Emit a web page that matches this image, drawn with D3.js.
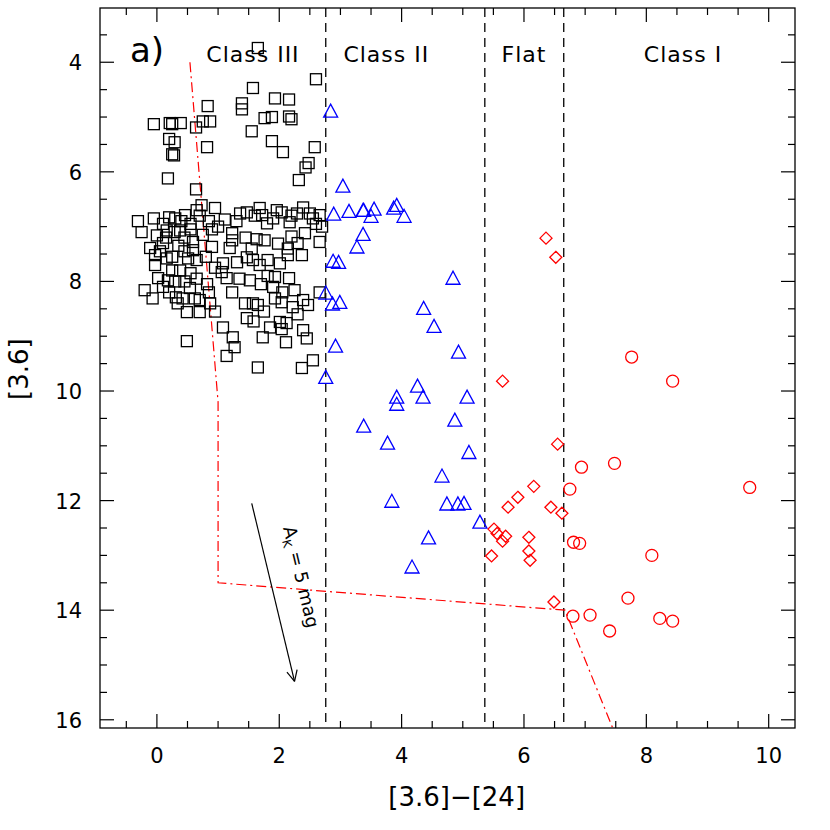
<!DOCTYPE html>
<html><head><meta charset="utf-8">
<script src="https://cdn.jsdelivr.net/npm/d3@7"></script>
<style>body{margin:0;background:#fff}</style></head>
<body><svg id="c" width="830" height="830"></svg>
<script>
const xTicks=[0,2,4,6,8,10];
const yTicks=[4,6,8,10,12,14,16];
const classBounds=[2.76,5.36,6.65];
const classLabels=[["Class III",1.57],["Class II",3.75],["Flat",6.0],["Class I",8.6]];
const reddeningLine=[[0.54,4.0],[1.0,10.2],[1.0,13.5],[6.67,14.0],[7.45,16.15]];
const arrow=[[1.55,12.05],[2.25,15.3]];
const classIII=[[1.65,3.74],[2.6,4.31],[1.57,4.47],[1.93,4.66],[2.16,4.68],[1.39,4.75],[1.39,4.86],[0.83,4.8],[-0.05,5.13],[0.21,5.11],[0.25,5.13],[0.39,5.11],[0.75,5.08],[0.87,5.08],[0.64,5.19],[1.76,5.02],[1.88,5.0],[2.16,4.99],[2.2,5.04],[1.55,5.26],[0.2,5.4],[0.29,5.46],[1.88,5.44],[0.82,5.55],[2.06,5.64],[2.58,5.55],[0.25,5.68],[0.28,5.7],[2.48,5.84],[2.43,5.92],[0.18,6.12],[2.32,6.15],[0.64,6.32],
[-0.31,6.9],[-0.25,7.1],[0.2,6.83],[0.46,6.79],[0.73,6.61],[0.95,6.66],[1.11,6.87],[1.36,6.76],[1.47,6.74],[1.68,6.66],[1.72,6.79],[1.96,6.7],[2.04,6.74],[2.29,6.76],[2.39,6.65],[2.5,6.76],[2.66,6.79],[1.8,6.94],[2.17,6.92],[2.42,7.12],[2.2,7.18],[1.63,7.23],[1.76,7.25],[1.98,7.31],[2.14,7.4],[2.14,7.52],[2.37,7.52],[2.66,7.28],[1.23,7.12],[1.23,7.25],[1.19,7.39],[0.9,7.37],[0.59,7.28],[0.59,7.43],[0.16,7.07],[0.29,7.1],[0.38,7.07],[0.0,7.16],[-0.11,7.39],[-0.03,7.52],[-0.03,7.7],[0.16,7.58],[0.25,7.8],[0.38,7.8],[0.51,7.58],[0.65,7.61],[0.02,7.94],[0.18,7.98],[-0.2,8.16],[-0.07,8.31],[0.31,8.29],[0.42,8.31],[0.54,8.12],[0.62,8.31],[0.7,8.34],[0.34,8.4],[0.49,8.56],[0.7,8.56],[0.87,8.4],[0.82,8.05],[1.08,7.67],[1.06,7.83],[1.14,7.94],[1.23,8.2],[1.31,7.65],[1.47,7.56],[1.57,7.61],[1.68,7.7],[1.81,7.61],[2.01,7.67],[1.81,7.9],[1.93,7.92],[2.16,7.94],[1.52,7.98],[2.25,8.16],[1.44,8.4],[1.57,8.4],[1.65,8.43],[1.93,8.31],[2.04,8.38],[2.22,8.47],[2.39,8.34],[2.47,8.43],[1.47,8.67],[1.58,8.73],[1.85,8.84],[2.01,8.74],[2.12,8.76],[2.04,8.87],[2.39,8.89],[2.45,9.04],[2.11,9.11],[1.73,9.02],[1.08,8.84],[1.24,9.02],[1.27,9.2],[1.14,9.36],[0.49,9.09],[1.65,9.57],[2.55,9.44],[2.37,9.58],[2.66,8.2],
[0.1,6.95],[0.3,6.85],[0.55,6.95],[0.7,6.8],[0.85,6.9],[1.0,7.0],[0.45,7.2],[0.75,7.15],[0.9,7.05],[0.35,7.35],[0.1,7.3],[0.05,7.45],[0.25,7.55],[0.45,7.45],[0.8,7.55],[0.95,7.75],[0.55,7.85],[0.3,8.0],[0.45,8.0],[0.65,7.95],[0.1,8.1],[0.2,8.2],[0.85,8.2],[1.45,7.2],[1.55,7.4],[1.35,7.95],[1.7,8.05],[1.9,8.1],[2.3,7.3],[2.6,6.95],[2.7,7.0],[2.55,6.85],[1.6,6.8],[1.9,6.85],[2.2,6.8],[1.3,6.9],[0.65,6.7],[0.4,6.9],[-0.05,6.85],[0.15,7.2],[2.3,8.6],[1.75,8.55],[2.05,8.2],[0.95,8.55],[0.55,7.05]];
const classII=[[2.84,4.91],[3.04,6.28],[2.89,6.79],[3.14,6.74],[3.37,6.72],[3.38,6.72],[3.55,6.7],[3.5,6.83],[3.87,6.68],[3.92,6.63],[4.04,6.83],[3.37,7.16],[3.27,7.39],[2.88,7.65],[2.97,7.67],[4.84,7.96],[2.76,8.23],[2.87,8.43],[2.99,8.4],[4.36,8.51],[4.53,8.84],[2.92,9.2],[4.93,9.31],[2.76,9.77],[4.26,9.93],[4.35,10.13],[3.92,10.13],[3.92,10.26],[5.07,10.13],[3.38,10.66],[4.87,10.55],[3.77,10.97],[5.1,11.14],[4.66,11.57],[3.84,12.03],[4.74,12.08],[4.92,12.08],[5.02,12.07],[5.28,12.41],[4.44,12.7],[4.17,13.23]];
const flat=[[6.36,7.21],[6.52,7.56],[5.65,9.82],[6.55,10.97],[6.16,11.74],[5.9,11.94],[5.74,12.12],[6.44,12.12],[6.62,12.23],[5.51,12.52],[5.56,12.6],[5.7,12.65],[5.65,12.74],[6.08,12.67],[6.08,12.92],[6.1,13.09],[5.47,13.01],[6.49,13.85]];
const classI=[[7.76,9.38],[8.43,9.82],[6.94,11.39],[7.48,11.32],[9.69,11.76],[6.75,11.79],[6.81,12.76],[6.91,12.78],[8.09,13.0],[7.7,13.78],[6.8,14.11],[7.08,14.09],[8.22,14.15],[8.43,14.2],[7.4,14.38]];

const L=100,R=795,T=8,B=728;
const svg=d3.select("#c");
const x=d3.scaleLinear().domain([-0.93,10.43]).range([L,R]);
const y=d3.scaleLinear().domain([3.01,16.15]).range([T,B]);
const F="DejaVu Sans, sans-serif";

svg.append("clipPath").attr("id","cp").append("rect").attr("x",L).attr("y",T).attr("width",R-L).attr("height",B-T);
const g=svg.append("g").attr("clip-path","url(#cp)");

classBounds.forEach(v=>g.append("line").attr("x1",x(v)).attr("x2",x(v)).attr("y1",T).attr("y2",B)
 .attr("stroke","#000").attr("stroke-width",1.3).attr("stroke-dasharray","9,6"));

g.append("path").attr("d",d3.line().x(d=>x(d[0])).y(d=>y(d[1]))(reddeningLine))
 .attr("fill","none").attr("stroke","red").attr("stroke-width",1.2).attr("stroke-dasharray","10,4,2,4");

g.selectAll(".sq").data(classIII).join("rect").attr("x",d=>x(d[0])-5.5).attr("y",d=>y(d[1])-5.5)
 .attr("width",11).attr("height",11).attr("fill","none").attr("stroke","#000").attr("stroke-width",1.3);
g.selectAll(".tr").data(classII).join("path").attr("d",d=>{const cx=x(d[0]),cy=y(d[1]);return `M${cx-7},${cy+5}L${cx+7},${cy+5}L${cx},${cy-8}Z`;})
 .attr("fill","none").attr("stroke","blue").attr("stroke-width",1.3);
g.selectAll(".dm").data(flat).join("path").attr("d",d=>{const cx=x(d[0]),cy=y(d[1]);return `M${cx},${cy-6}L${cx+6},${cy}L${cx},${cy+6}L${cx-6},${cy}Z`;})
 .attr("fill","none").attr("stroke","red").attr("stroke-width",1.3);
g.selectAll(".ci").data(classI).join("circle").attr("cx",d=>x(d[0])).attr("cy",d=>y(d[1])).attr("r",6)
 .attr("fill","none").attr("stroke","red").attr("stroke-width",1.3);

const ax0=x(arrow[0][0]),ay0=y(arrow[0][1]),ax1=x(arrow[1][0]),ay1=y(arrow[1][1]);
svg.append("line").attr("x1",ax0).attr("y1",ay0).attr("x2",ax1).attr("y2",ay1).attr("stroke","#000").attr("stroke-width",1.2);
const ang=Math.atan2(ay1-ay0,ax1-ax0);
[0.45,-0.45].forEach(a=>svg.append("line").attr("x1",ax1).attr("y1",ay1)
 .attr("x2",ax1-12*Math.cos(ang+a)).attr("y2",ay1-12*Math.sin(ang+a)).attr("stroke","#000").attr("stroke-width",1.2));
const deg=ang*180/Math.PI;
const at=svg.append("text").attr("transform",`translate(${(ax0+ax1)/2+22},${(ay0+ay1)/2-14}) rotate(${deg})`)
 .attr("text-anchor","middle").attr("font-family",F).attr("font-size",18);
at.append("tspan").text("A");
at.append("tspan").attr("font-size",12).attr("dy",4).text("K");
at.append("tspan").attr("dy",-4).text(" = 5 mag");

svg.append("rect").attr("x",L).attr("y",T).attr("width",R-L).attr("height",B-T).attr("fill","none").attr("stroke","#000").attr("stroke-width",1.3);

const xMin=d3.range(-0.5,10.5,0.5), yMin=d3.range(3.5,16.1,0.5);
const tk=svg.append("g").attr("stroke","#000").attr("stroke-width",1.2);
xMin.forEach(v=>{const maj=xTicks.includes(v),l=maj?14:7;
 tk.append("line").attr("x1",x(v)).attr("x2",x(v)).attr("y1",B).attr("y2",B-l);
 tk.append("line").attr("x1",x(v)).attr("x2",x(v)).attr("y1",T).attr("y2",T+l);});
yMin.forEach(v=>{const maj=yTicks.includes(v),l=maj?14:7;
 tk.append("line").attr("y1",y(v)).attr("y2",y(v)).attr("x1",L).attr("x2",L+l);
 tk.append("line").attr("y1",y(v)).attr("y2",y(v)).attr("x1",R).attr("x2",R-l);});
xTicks.forEach(v=>svg.append("text").attr("x",x(v)).attr("y",B+35).attr("text-anchor","middle")
 .attr("font-family",F).attr("font-size",21).text(v));
yTicks.forEach(v=>svg.append("text").attr("x",L-18).attr("y",y(v)+8).attr("text-anchor","end")
 .attr("font-family",F).attr("font-size",21).text(v));

svg.append("text").attr("x",x(4.9)).attr("y",806).attr("text-anchor","middle").attr("font-family",F).attr("font-size",26).text("[3.6]−[24]");
svg.append("text").attr("transform",`translate(28,${y(9.6)}) rotate(-90)`).attr("text-anchor","middle").attr("font-family",F).attr("font-size",26).text("[3.6]");

classLabels.forEach(([t,v])=>svg.append("text").attr("x",x(v)).attr("y",62).attr("text-anchor","middle")
 .attr("font-family",F).attr("font-size",22).attr("letter-spacing",1).text(t));
svg.append("text").attr("x",130).attr("y",62).attr("font-family",F).attr("font-size",34).text("a)");
</script></body></html>
